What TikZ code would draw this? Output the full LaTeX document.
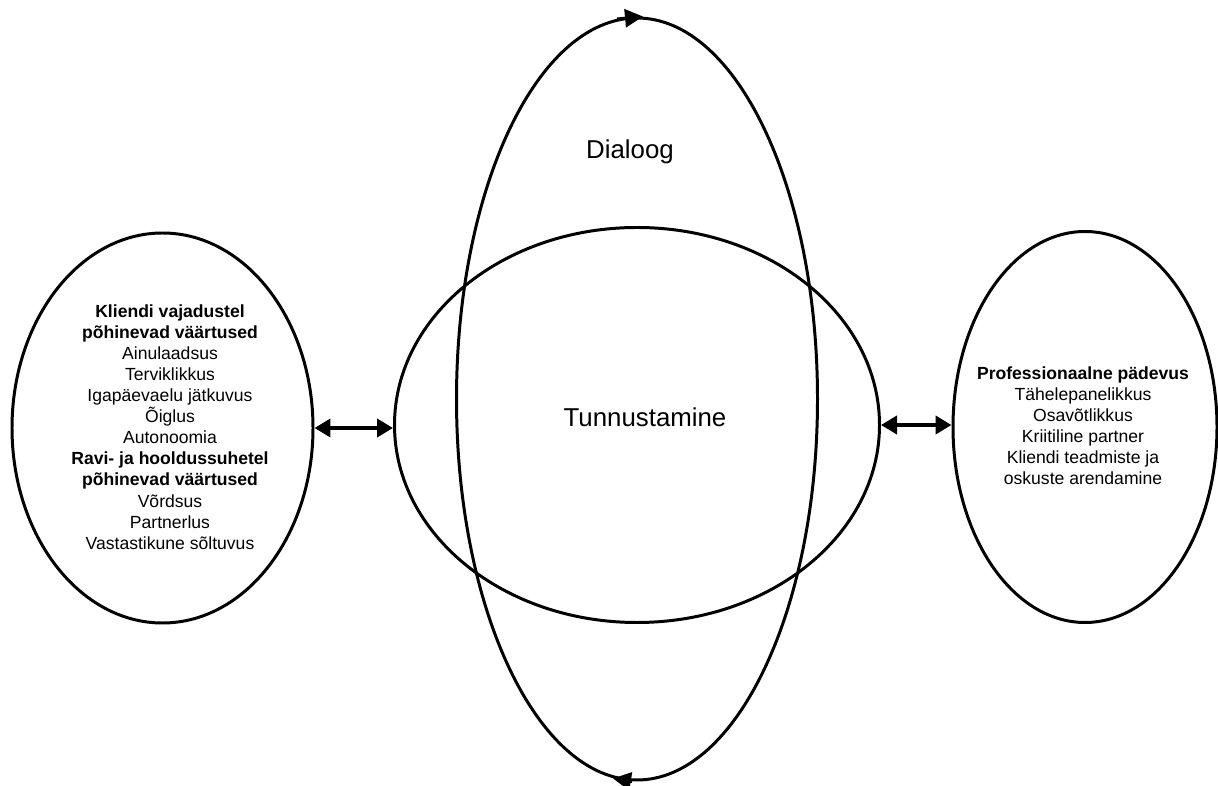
\documentclass[tikz,border=0pt]{standalone}
\usepackage{fontspec}
\setmainfont{Liberation Sans}
\usetikzlibrary{shapes.geometric,arrows.meta}
\begin{document}
\begin{tikzpicture}[
    ring/.style={draw,ellipse,line width=1.7pt,inner sep=0pt},
    words/.style={align=center,font=\fontsize{10}{12}\selectfont},
    link/.style={{Triangle[length=3.2mm,width=3.6mm]}-{Triangle[length=3.2mm,width=3.6mm]},line width=2.5pt},
    flow/.style={-{Triangle[length=3.6mm,width=3.6mm]},line width=1.7pt}]
    \useasboundingbox (0,0) rectangle (24.36,15.7);
    % the four rings
    \node[ring,minimum width=6.02cm,minimum height=7.8cm] (values) at (3.25,7.14) {};
    \node[ring,minimum width=7.22cm,minimum height=15.24cm] (dialog) at (12.74,7.72) {};
    \node[ring,minimum width=9.7cm,minimum height=7.9cm] (core) at (12.74,7.2) {};
    \node[ring,minimum width=5.28cm,minimum height=7.82cm] (skills) at (21.7,7.16) {};
    % texts
    \node[words] (valuestext) at (3.4,7.16) {\textbf{Kliendi vajadustel}\\\textbf{põhinevad väärtused}\\Ainulaadsus\\Terviklikkus\\Igapäevaelu jätkuvus\\Õiglus\\Autonoomia\\\textbf{Ravi- ja hooldussuhetel}\\\textbf{põhinevad väärtused}\\Võrdsus\\Partnerlus\\Vastastikune sõltuvus};
    \node[words] (skillstext) at (21.66,7.19) {\textbf{Professionaalne pädevus}\\Tähelepanelikkus\\Osavõtlikkus\\Kriitiline partner\\Kliendi teadmiste ja\\oskuste arendamine};
    \node[font=\fontsize{14.7}{17}\selectfont] (dialogtext) at (12.6,12.66) {Dialoog};
    \node[font=\fontsize{14.7}{17}\selectfont] (coretext) at (12.9,7.36) {Tunnustamine};
    % arrows
    \draw[link] (values.east) -- (values.east -| core.west);
    \draw[link] (core.east) -- (core.east -| skills.west);
    \draw[flow] ([xshift=-4mm,yshift=-0.5mm]dialog.north) -- ([xshift=1.2mm]dialog.north);
    \draw[flow] ([xshift=-1mm]dialog.south) -- ([xshift=-4.8mm,yshift=0.6mm]dialog.south);
\end{tikzpicture}
\end{document}
